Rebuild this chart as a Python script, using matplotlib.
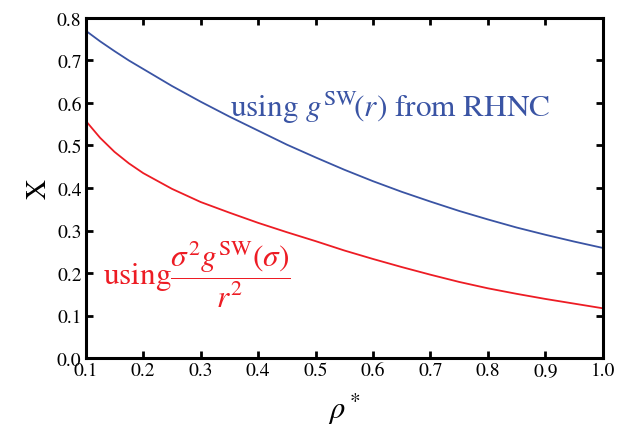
import matplotlib
matplotlib.use("Agg")
import matplotlib.pyplot as plt

plt.rcParams.update({"font.family": "STIXGeneral", "mathtext.fontset": "stix"})

# reduced density rho*
rho = [0.1, 0.125, 0.15, 0.175, 0.2, 0.25, 0.3, 0.35, 0.4, 0.45, 0.5,
       0.55, 0.6, 0.65, 0.7, 0.75, 0.8, 0.85, 0.9, 0.95, 1.0]
# X using g^SW(r) from RHNC
x_rhnc = [0.77, 0.745, 0.722, 0.70, 0.68, 0.64, 0.603, 0.568, 0.535, 0.502, 0.472,
          0.443, 0.416, 0.391, 0.368, 0.346, 0.326, 0.307, 0.29, 0.274, 0.259]
# X using sigma^2 g^SW(sigma) / r^2
x_contact = [0.558, 0.518, 0.485, 0.458, 0.435, 0.398, 0.367, 0.342, 0.318, 0.296, 0.275,
             0.253, 0.233, 0.214, 0.196, 0.179, 0.164, 0.151, 0.139, 0.128, 0.117]

BLUE = "#3a54a4"
RED = "#ed1c24"

fig = plt.figure(figsize=(6.17, 4.31), dpi=100)
ax = fig.add_axes([0.139, 0.167, 0.838, 0.789])

ax.plot(rho, x_rhnc, color=BLUE, lw=1.3)
ax.plot(rho, x_contact, color=RED, lw=1.3)

ax.text(0.351, 0.569, r"using $g^{\mathrm{SW}}\!(r)$ from RHNC", color=BLUE,
        fontsize=22.5, ha="left", va="baseline")
ax.text(0.130, 0.174, r"using$\dfrac{\sigma^2 g^{\mathrm{SW}}(\sigma)}{r^2}$",
        color=RED, fontsize=22.5, ha="left", va="baseline")

ax.set_xlim(0.1, 1.0)
ax.set_ylim(0.0, 0.8)
ax.set_xticks([0.1 * i for i in range(1, 11)])
ax.set_xticklabels([f"{0.1 * i:.1f}" for i in range(1, 11)])
ax.set_yticks([0.1 * i for i in range(0, 9)])
ax.set_yticklabels([f"{0.1 * i:.1f}" for i in range(0, 9)])
ax.tick_params(direction="in", length=5, width=2, labelsize=14, pad=3,
               top=True, right=True)
for s in ax.spines.values():
    s.set_linewidth(2.2)

ax.set_xlabel(r"$\rho^*$", fontsize=22, labelpad=8)
ax.set_ylabel("X", fontsize=20, labelpad=4)

fig.savefig("out.png", dpi=100)
